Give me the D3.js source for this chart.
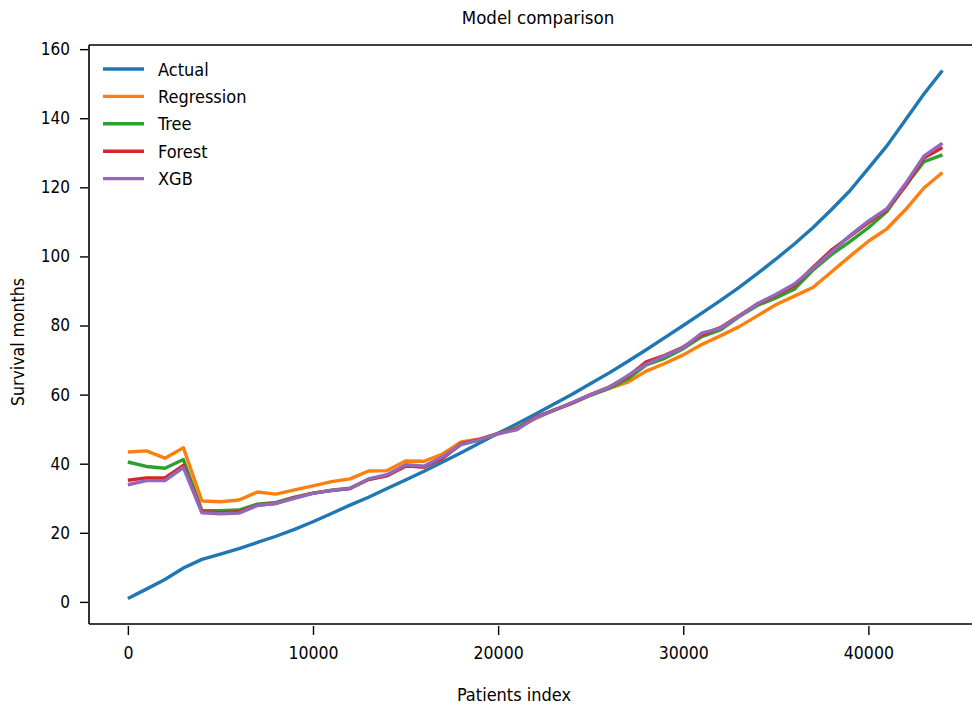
<!DOCTYPE html>
<html>
<head>
<meta charset="utf-8">
<script src="https://cdn.jsdelivr.net/npm/d3@7"></script>
<style>
  html, body { margin: 0; padding: 0; background: #fff; }
  svg text { font-family: "DejaVu Sans Condensed", "DejaVu Sans", sans-serif; font-stretch: condensed; fill: #000; }
</style>
</head>
<body>
<svg id="chart" width="972" height="708"></svg>
<script>
// Patient index samples (every 1000 patients)
const patientIndex = d3.range(0, 45000, 1000);

const actual = [1.0, 3.7, 6.5, 9.8, 12.3, 13.8, 15.4, 17.2, 19.0, 21.0,
  23.2, 25.6, 28.0, 30.3, 32.8, 35.3, 37.8, 40.5, 43.2, 46.0,
  48.8, 51.5, 54.3, 57.2, 60.1, 63.2, 66.3, 69.6, 73.0, 76.5,
  80.0, 83.6, 87.2, 91.0, 95.0, 99.2, 103.6, 108.3, 113.5, 119.0,
  125.5, 132.0, 139.5, 147.0, 153.8];

const regression = [43.4, 43.7, 41.6, 44.6, 29.2, 29.0, 29.5, 31.8, 31.2, 32.4,
  33.6, 34.8, 35.6, 37.9, 38.0, 40.8, 40.7, 42.8, 46.3, 47.2,
  48.6, 50.3, 53.0, 55.5, 57.5, 60.0, 61.8, 63.6, 66.8, 69.0,
  71.5, 74.5, 77.0, 79.6, 82.8, 86.0, 88.5, 91.0, 95.5, 100.0,
  104.4, 108.0, 113.5, 119.8, 124.3];

const tree = [40.5, 39.2, 38.7, 41.2, 26.4, 26.4, 26.6, 28.3, 28.8, 30.3,
  31.5, 32.3, 32.9, 35.5, 36.6, 39.4, 39.1, 41.8, 45.5, 46.9,
  48.7, 50.3, 53.3, 55.5, 57.5, 59.8, 61.8, 64.5, 68.6, 70.5,
  73.3, 76.8, 78.7, 82.5, 85.8, 88.0, 90.5, 96.0, 100.5, 104.3,
  108.3, 113.0, 120.5, 127.4, 129.4];

const forest = [35.2, 35.9, 35.9, 39.5, 26.1, 25.8, 26.0, 28.0, 28.5, 30.2,
  31.5, 32.2, 32.8, 35.4, 36.5, 39.3, 39.0, 41.5, 45.8, 47.0,
  48.8, 50.0, 53.5, 55.4, 57.6, 60.0, 62.2, 65.2, 69.5, 71.4,
  73.8, 77.3, 79.4, 82.8, 86.2, 88.8, 91.5, 96.8, 101.8, 105.8,
  109.8, 113.5, 120.3, 128.5, 131.5];

const xgb = [33.9, 35.1, 35.1, 38.9, 25.8, 25.5, 25.7, 27.9, 28.5, 30.0,
  31.4, 32.3, 32.8, 35.6, 36.8, 39.7, 39.3, 42.0, 45.6, 47.0,
  48.7, 49.8, 53.3, 55.4, 57.7, 60.0, 62.1, 65.5, 68.8, 71.2,
  73.6, 77.8, 79.2, 82.6, 86.3, 89.0, 92.0, 96.5, 101.2, 106.0,
  110.2, 113.8, 121.0, 129.0, 132.8];

const seriesNames = ["Actual", "Regression", "Tree", "Forest", "XGB"];
const seriesColors = ["#1f77b4", "#ff7f0e", "#2ca02c", "#d62728", "#9467bd"];
const xTicks = [0, 10000, 20000, 30000, 40000];
const yTicks = [0, 20, 40, 60, 80, 100, 120, 140, 160];

const series = [actual, regression, tree, forest, xgb].map((vals, k) => ({
  name: seriesNames[k],
  color: seriesColors[k],
  values: vals.map((v, i) => ({ x: patientIndex[i], y: v }))
}));

const svg = d3.select("#chart");

// Plot frame (right edge runs past the page)
const plot = { left: 89, right: 985, top: 45, bottom: 624 };

const x = d3.scaleLinear().domain([-2100, 46300]).range([plot.left, plot.right]);
const y = d3.scaleLinear().domain([-6.4, 161.2]).range([plot.bottom, plot.top]);

// Lines
const line = d3.line().x(d => x(d.x)).y(d => y(d.y));
svg.append("g")
  .selectAll("path")
  .data(series)
  .join("path")
  .attr("d", d => line(d.values))
  .attr("fill", "none")
  .attr("stroke", d => d.color)
  .attr("stroke-width", 3.4)
  .attr("stroke-linejoin", "round")
  .attr("stroke-linecap", "butt");

// Spines
svg.append("line").attr("x1", plot.left).attr("x2", plot.left)
  .attr("y1", plot.top).attr("y2", plot.bottom)
  .attr("stroke", "#000").attr("stroke-width", 1.6);
svg.append("line").attr("x1", plot.left).attr("x2", 972)
  .attr("y1", plot.top).attr("y2", plot.top)
  .attr("stroke", "#000").attr("stroke-width", 1.6);
svg.append("line").attr("x1", plot.left).attr("x2", 972)
  .attr("y1", plot.bottom).attr("y2", plot.bottom)
  .attr("stroke", "#000").attr("stroke-width", 1.6);

// X axis
const xAxis = d3.axisBottom(x).tickValues(xTicks).tickFormat(d3.format("d"))
  .tickSize(9).tickPadding(12);
const gx = svg.append("g").attr("transform", `translate(0,${plot.bottom + 2})`).call(xAxis);
gx.select(".domain").remove();
gx.selectAll(".tick line").attr("stroke", "#000").attr("stroke-width", 1.4);
gx.selectAll(".tick text").attr("font-size", 17.5).attr("fill", "#000");

// Y axis
const yAxis = d3.axisLeft(y).tickValues(yTicks).tickFormat(d3.format("d"))
  .tickSize(8).tickPadding(10);
const gy = svg.append("g").attr("transform", `translate(${plot.left - 1},0)`).call(yAxis);
gy.select(".domain").remove();
gy.selectAll(".tick line").attr("stroke", "#000").attr("stroke-width", 1.4);
gy.selectAll(".tick text").attr("font-size", 17).attr("fill", "#000");
gx.attr("font-family", null);
gy.attr("font-family", null);

// Axis titles and chart title
svg.append("text").attr("x", 538).attr("y", 24).attr("text-anchor", "middle")
  .attr("font-size", 18.5).text("Model comparison");
svg.append("text").attr("x", 514).attr("y", 701).attr("text-anchor", "middle")
  .attr("font-size", 18).text("Patients index");
svg.append("text").attr("transform", "translate(24,342) rotate(-90)")
  .attr("text-anchor", "middle").attr("font-size", 17.5).text("Survival months");

// Legend
const legend = svg.append("g").attr("transform", "translate(103,69)");
const item = legend.selectAll("g").data(series).join("g")
  .attr("transform", (d, i) => `translate(0,${i * 27.4})`);
item.append("line").attr("x1", 0).attr("x2", 41).attr("y1", 0).attr("y2", 0)
  .attr("stroke", d => d.color).attr("stroke-width", 3.4);
item.append("text").attr("x", 55).attr("y", 6.5).attr("font-size", 18).text(d => d.name);
</script>
</body>
</html>
